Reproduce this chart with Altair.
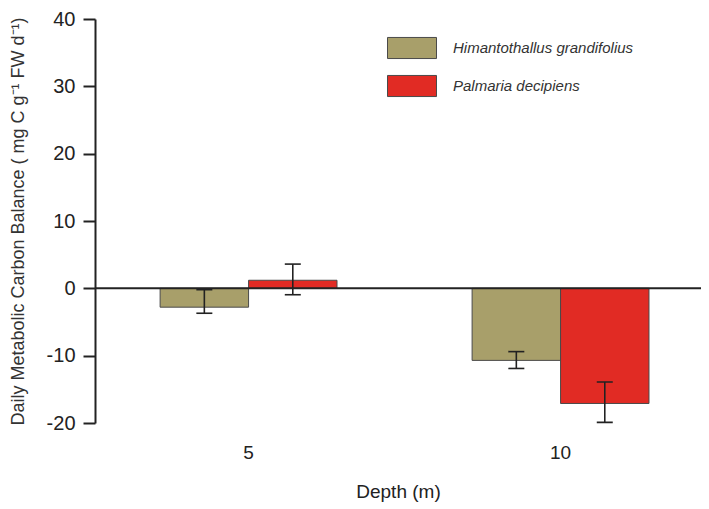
import altair as alt
import pandas as pd

depths = ["5", "10"]
species = ["Himantothallus grandifolius", "Palmaria decipiens"]
colors = ["#A89F6A", "#E12B24"]

# mean values per species (one per depth)
himantothallus_mean = [-2.8, -10.7]
palmaria_mean = [1.2, -17.1]
# error bar ends per species
himantothallus_low = [-3.7, -11.9]
himantothallus_high = [-0.2, -9.4]
palmaria_low = [-0.95, -19.9]
palmaria_high = [3.6, -13.9]

y_ticks = [-20, -10, 0, 10, 20, 30, 40]

rows = []
for i, d in enumerate(depths):
    rows.append({"Depth": d, "Species": species[0], "value": himantothallus_mean[i],
                 "lo": himantothallus_low[i], "hi": himantothallus_high[i]})
    rows.append({"Depth": d, "Species": species[1], "value": palmaria_mean[i],
                 "lo": palmaria_low[i], "hi": palmaria_high[i]})
df = pd.DataFrame(rows)

x_scale = alt.Scale(paddingInner=0.433, paddingOuter=0.1877, align=0.556)
x_enc = alt.X("Depth:N", sort=depths, scale=x_scale, title="Depth (m)")
xoff = alt.XOffset("Species:N", sort=species, scale=alt.Scale(paddingInner=0, paddingOuter=0))
y_scale = alt.Scale(domain=[-20, 40], nice=False, zero=False)
y_title = "Daily Metabolic Carbon Balance ( mg C g⁻¹ FW d⁻¹)"
y_axis = alt.Axis(values=y_ticks, labelExpr="'' + datum.value")

bars = alt.Chart(df).mark_bar(stroke="#4a4a4a", strokeWidth=1, opacity=1).encode(
    x=x_enc,
    xOffset=xoff,
    y=alt.Y("value:Q", scale=y_scale, title=y_title, axis=y_axis),
    y2=alt.datum(0),
    color=alt.Color("Species:N", sort=species,
                    scale=alt.Scale(domain=species, range=colors),
                    legend=alt.Legend(title=None, orient="none", legendX=292, legendY=4,
                                      symbolType="M-1,-0.43H1V0.43H-1Z", symbolSize=2401,
                                      symbolStrokeColor="#4a4a4a", symbolStrokeWidth=1,
                                      symbolOpacity=1, labelOffset=16, labelFontSize=15,
                                      labelFont="Liberation Sans", labelFontStyle="italic",
                                      labelColor="#333", labelLimit=0, rowPadding=-12)),
)

zero = alt.Chart(pd.DataFrame({"z": [0]})).mark_rule(color="#222", strokeWidth=2).encode(
    y=alt.Y("z:Q", scale=y_scale, title=y_title, axis=y_axis)
)

x_plain = alt.X("Depth:N", sort=depths, scale=x_scale, title="Depth (m)")
xoff_plain = alt.XOffset("Species:N", sort=species)

err = alt.Chart(df).mark_rule(color="#222", strokeWidth=1.6).encode(
    x=x_plain,
    xOffset=xoff_plain,
    y=alt.Y("lo:Q", scale=y_scale, title=y_title, axis=y_axis),
    y2="hi:Q",
)
cap_lo = alt.Chart(df).mark_tick(color="#222", size=16, thickness=1.6, opacity=1).encode(
    x=x_plain,
    xOffset=xoff_plain,
    y=alt.Y("lo:Q", scale=y_scale, title=y_title, axis=y_axis),
)
cap_hi = alt.Chart(df).mark_tick(color="#222", size=16, thickness=1.6, opacity=1).encode(
    x=x_plain,
    xOffset=xoff_plain,
    y=alt.Y("hi:Q", scale=y_scale, title=y_title, axis=y_axis),
)

chart = alt.layer(bars, zero, err, cap_lo, cap_hi).properties(
    width=606, height=404,
    autosize=alt.AutoSizeParams(type="none"),
    padding={"left": 87, "top": 11, "right": 0, "bottom": 80},
).configure(
    background="white",
    view=alt.ViewConfig(stroke=None),
).configure_axisX(
    labelAngle=0, domain=False, ticks=False, tickSize=0, grid=False,
    labelPadding=20, titlePadding=20, labelFontSize=19, titleFontSize=19,
    labelFont="Liberation Sans", titleFont="Liberation Sans", titleFontWeight="normal",
    labelColor="#222", titleColor="#222",
).configure_axisY(
    grid=False, domainColor="#222", domainWidth=2, tickColor="#222",
    tickWidth=2, tickSize=12, labelPadding=8, labelFontSize=20,
    labelFont="Liberation Sans", labelColor="#222",
    titleFont="Liberation Sans", titleFontSize=18, titleFontWeight="normal",
    titleColor="#333", titleX=-68, titleY=202, titleAlign="center", titleBaseline="bottom",
)

chart.save("out.html", embed_options={"renderer": "svg", "actions": False})
